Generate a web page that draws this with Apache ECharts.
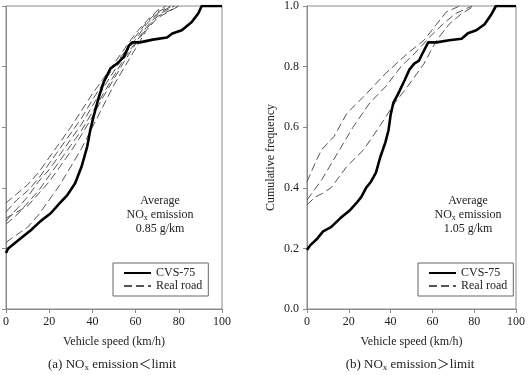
<!DOCTYPE html>
<html>
<head>
<meta charset="utf-8">
<script src="https://cdn.jsdelivr.net/npm/echarts@6/dist/echarts.min.js"></script>
<style>
  html, body { margin: 0; padding: 0; background: #fff; }
  #chart { width: 528px; height: 375px; }
</style>
</head>
<body>
<div id="chart"></div>
<script>
// == Data ====================================================================

const speedTicks = [0, 20, 40, 60, 80, 100]
const freqTicks = [0, 0.2, 0.4, 0.6, 0.8, 1.0]

// (a) emission below limit: [speed km/h, cumulative frequency]
const cvsLeft = [
  [0, 0.185], [1, 0.2], [4, 0.217], [7, 0.234], [11.5, 0.26], [16, 0.29],
  [20.7, 0.316], [25, 0.35], [28.4, 0.376], [32, 0.415], [35, 0.47],
  [37.6, 0.536], [39, 0.59], [40.7, 0.64], [43, 0.7], [45.3, 0.75],
  [48.4, 0.794], [51.5, 0.81], [54.5, 0.832], [57, 0.87], [58.4, 0.88],
  [62, 0.88], [68, 0.889], [74.5, 0.896], [77, 0.909], [81.4, 0.92],
  [86, 0.947], [89, 0.975], [90.6, 1.0], [100, 1.0]
]
const roadLeft1 = [[0, 0.35], [5, 0.38], [10, 0.41], [15, 0.45], [20, 0.5], [25, 0.55], [30, 0.6], [35, 0.655], [40, 0.71], [45, 0.76], [50, 0.81], [55, 0.86], [60, 0.91], [65, 0.95], [70, 0.985], [74, 1.0]]
const roadLeft2 = [[0, 0.32], [5, 0.36], [10, 0.39], [15, 0.43], [20, 0.48], [25, 0.53], [30, 0.58], [35, 0.63], [40, 0.69], [45, 0.745], [50, 0.8], [55, 0.85], [60, 0.9], [65, 0.945], [70, 0.98], [76, 1.0]]
const roadLeft3 = [[0, 0.29], [5, 0.33], [10, 0.37], [15, 0.42], [20, 0.46], [25, 0.51], [30, 0.56], [35, 0.61], [40, 0.67], [45, 0.73], [50, 0.785], [55, 0.84], [60, 0.89], [65, 0.94], [70, 0.975], [77, 1.0]]
const roadLeft4 = [[0, 0.28], [5, 0.31], [10, 0.35], [15, 0.39], [20, 0.44], [25, 0.49], [30, 0.54], [35, 0.59], [40, 0.65], [45, 0.71], [50, 0.77], [55, 0.83], [60, 0.88], [65, 0.93], [70, 0.97], [78, 1.0]]
const roadLeft5 = [[0, 0.3], [5, 0.32], [10, 0.34], [15, 0.38], [20, 0.42], [25, 0.47], [30, 0.52], [35, 0.575], [40, 0.635], [45, 0.7], [50, 0.76], [55, 0.82], [60, 0.875], [65, 0.925], [70, 0.965], [80, 1.0]]
const roadLeft6 = [[0, 0.22], [5, 0.245], [10, 0.27], [15, 0.31], [20, 0.36], [25, 0.41], [30, 0.47], [35, 0.53], [40, 0.6], [45, 0.67], [50, 0.74], [55, 0.8], [60, 0.86], [65, 0.92], [70, 0.96], [80, 1.0]]

// (b) emission above limit
const cvsRight = [
  [0, 0.195], [1.5, 0.21], [4.6, 0.23], [7.7, 0.256], [11.5, 0.27], [16, 0.3],
  [20.7, 0.327], [23.7, 0.35], [26, 0.37], [28.3, 0.4], [30.6, 0.42], [33, 0.45],
  [35, 0.5], [37.5, 0.55], [39, 0.59], [40, 0.64], [41.3, 0.68], [43.6, 0.71],
  [46.7, 0.755], [49, 0.79], [51.3, 0.81], [53.6, 0.82], [55, 0.84], [58, 0.88],
  [62, 0.88], [68, 0.887], [74, 0.892], [77, 0.91], [81, 0.92], [85, 0.94],
  [88, 0.97], [90.4, 1.0], [100, 1.0]
]
const roadRight1 = [[0, 0.42], [3.8, 0.48], [6.9, 0.525], [13, 0.57], [19, 0.645], [27, 0.7], [37.5, 0.777], [48, 0.843], [56, 0.887], [62, 0.94], [66.6, 0.98], [73, 1.0]]
const roadRight2 = [[0, 0.36], [7, 0.426], [14.5, 0.513], [22, 0.6], [30, 0.68], [37.5, 0.733], [45, 0.8], [53, 0.854], [59, 0.9], [65, 0.94], [71, 0.975], [79, 1.0]]
const roadRight3 = [[0, 0.344], [4, 0.37], [7, 0.38], [11.5, 0.4], [19, 0.47], [27, 0.525], [34.5, 0.6], [42, 0.68], [48, 0.733], [56, 0.81], [62, 0.887], [68, 0.94], [74, 0.975], [80, 1.0]]

const leftRoads = [roadLeft1, roadLeft2, roadLeft3, roadLeft4, roadLeft5, roadLeft6]
const rightRoads = [roadRight1, roadRight2, roadRight3]

// == Styles ==================================================================

const serif = 'Liberation Serif'
const axisGrey = '#8a8a8a'
const textColor = '#222'

function xAxisFor (gridIndex) {
  return {
    type: 'value', gridIndex, min: 0, max: 100, interval: 20,
    name: 'Vehicle speed (km/h)', nameLocation: 'middle', nameGap: 27,
    nameTextStyle: {fontFamily: serif, fontSize: 12, color: textColor},
    axisLine: {lineStyle: {color: axisGrey}},
    axisTick: {length: 4, lineStyle: {color: axisGrey}},
    axisLabel: {fontFamily: serif, fontSize: 12, color: textColor, margin: 7,
      formatter: v => speedTicks.indexOf(v) >= 0 ? String(v) : ''},
    splitLine: {show: false}
  }
}

function yAxisFor (gridIndex, showLabels) {
  return {
    type: 'value', gridIndex, min: 0, max: 1, interval: 0.2,
    name: showLabels ? 'Cumulative frequency' : '',
    nameLocation: 'middle', nameGap: 30,
    nameTextStyle: {fontFamily: serif, fontSize: 12, color: textColor},
    axisLine: {show: true, lineStyle: {color: axisGrey}},
    axisTick: {show: true, length: 4, lineStyle: {color: axisGrey}},
    axisLabel: {show: showLabels, fontFamily: serif, fontSize: 12, color: textColor, margin: 8,
      formatter: v => freqTicks.some(t => Math.abs(t - v) < 1e-6) ? v.toFixed(1) : ''},
    splitLine: {show: false}
  }
}

function cvsSeries (data, idx) {
  return {
    name: 'CVS-75', type: 'line', xAxisIndex: idx, yAxisIndex: idx, data,
    symbol: 'none', z: 5,
    itemStyle: {color: '#000'},
    lineStyle: {color: '#000', width: 2.6}
  }
}

function roadSeries (data, idx) {
  return {
    name: 'Real road', type: 'line', xAxisIndex: idx, yAxisIndex: idx, data,
    symbol: 'none',
    itemStyle: {color: '#555'},
    lineStyle: {color: '#555', width: 1, type: [8, 4]}
  }
}

function legendFor (left) {
  return {
    data: ['CVS-75', 'Real road'], orient: 'vertical', left, top: 263,
    selectedMode: false,
    backgroundColor: '#fff', borderColor: '#666', borderWidth: 1,
    padding: [4, 6, 4, 10], itemGap: 1, itemWidth: 27, itemHeight: 12,
    itemStyle: {opacity: 0},
    textStyle: {fontFamily: serif, fontSize: 12, color: textColor}
  }
}

function noteFor (cx, value) {
  return {
    type: 'text', x: cx, y: 194,
    style: {
      text: 'Average\nNO{sub|x} emission\n' + value + ' g/km',
      align: 'center', lineHeight: 14,
      font: '12px "Liberation Serif"', fill: textColor,
      rich: {sub: {fontSize: 8, fontFamily: serif, verticalAlign: 'bottom', padding: [5, 0, 0, 0]}}
    }
  }
}

function captionFor (cx, label, sign) {
  return {
    type: 'text', x: cx, y: 357,
    style: {
      text: '(' + label + ') NO{sub|x} emission' + sign + 'limit',
      align: 'center',
      font: '13px "Liberation Serif", "Noto Sans CJK SC"', fill: textColor,
      rich: {
        sub: {fontSize: 9, fontFamily: serif, verticalAlign: 'bottom', padding: [6, 0, 0, 0]}
      }
    }
  }
}

// == Chart ===================================================================

const series = [cvsSeries(cvsLeft, 0), cvsSeries(cvsRight, 1)]
leftRoads.forEach(d => series.push(roadSeries(d, 0)))
rightRoads.forEach(d => series.push(roadSeries(d, 1)))

const option = {
  animation: false,
  backgroundColor: '#fff',
  grid: [
    {left: 5, right: 306, top: 6, bottom: 66, show: true, borderColor: axisGrey, borderWidth: 1},
    {left: 307, right: 4, top: 6, bottom: 66, show: true, borderColor: axisGrey, borderWidth: 1}
  ],
  xAxis: [xAxisFor(0), xAxisFor(1)],
  yAxis: [yAxisFor(0, false), yAxisFor(1, true)],
  legend: [legendFor(113), legendFor(418)],
  series,
  graphic: [
    noteFor(160, '0.85'), noteFor(468, '1.05'),
    captionFor(112, 'a', '＜'), captionFor(410, 'b', '＞')
  ]
}

const myChart = echarts.init(document.getElementById('chart'))
myChart.setOption(option)
</script>
</body>
</html>
